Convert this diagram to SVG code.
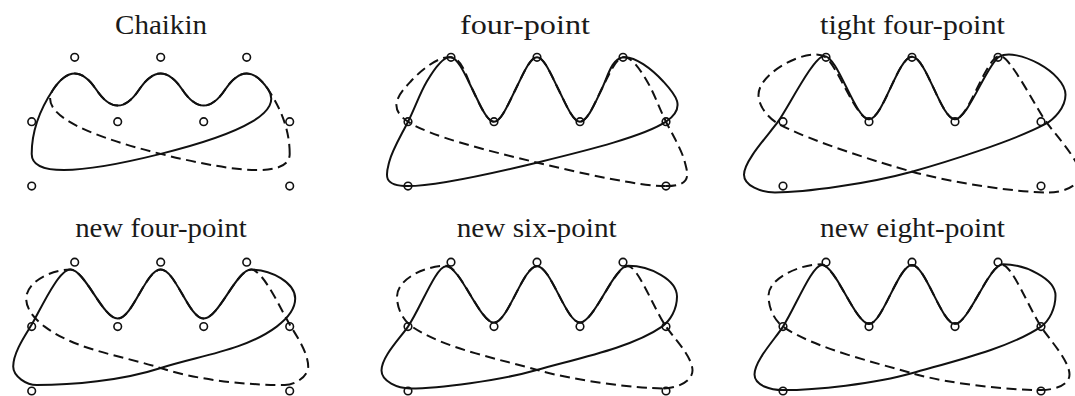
<svg xmlns="http://www.w3.org/2000/svg" xmlns:xlink="http://www.w3.org/1999/xlink" width="1075" height="396" viewBox="0 0 1075 396">
<style>
  .t{font-family:"Liberation Serif","Times New Roman",serif;font-size:27px;fill:#1a1a1a;text-anchor:middle}
  .s{fill:none;stroke:#111;stroke-width:2;stroke-linejoin:round}
  .d{fill:none;stroke:#111;stroke-width:2;stroke-dasharray:10 5.5}
  .p circle{fill:none;stroke:#111;stroke-width:1.6}
</style>
<defs>
  <g id="pts" class="p">
    <circle cx="0" cy="0" r="3.8"/><circle cx="43" cy="-64.4" r="3.8"/><circle cx="86" cy="0" r="3.8"/>
    <circle cx="129" cy="-64.4" r="3.8"/><circle cx="172" cy="0" r="3.8"/><circle cx="215" cy="-64.4" r="3.8"/>
    <circle cx="258" cy="0" r="3.8"/><circle cx="0" cy="64.4" r="3.8"/><circle cx="258" cy="64.4" r="3.8"/>
  </g>
  <path id="c1" d="M0,32.2 Q0,0 21.5,-32.2 Q43,-64.4 64.5,-32.2 Q86,0 107.5,-32.2 Q129,-64.4 150.5,-32.2 Q172,0 193.5,-32.2 Q215,-64.4 236.5,-32.2 Q258,0 129,32.2 Q0,64.4 0,32.2 Z"/>
  <path id="c2" d="M0,64.4 C-26.28,64.4 -21.95,52.33 -18.81,40.25 C-15.67,28.17 -7.17,14.31 0,0 C7.17,-14.31 11.57,-27.95 18.81,-40.25 C26.05,-52.55 35.24,-66.19 43,-64.4 C50.76,-62.61 57.41,-46.29 64.5,-32.2 C71.59,-18.11 78.83,0 86,0 C93.17,0 100.33,-17.89 107.5,-32.2 C114.67,-46.51 121.83,-64.4 129,-64.4 C136.17,-64.4 143.33,-46.51 150.5,-32.2 C157.67,-17.89 164.83,0 172,0 C179.17,0 186.86,-18.11 193.5,-32.2 C200.14,-46.29 203.65,-62.61 215,-64.4 C226.35,-66.19 244.04,-52.55 255.31,-40.25 C266.58,-27.95 279.5,-14.31 258,0 C236.5,14.31 181.41,28.17 131.69,40.25 C81.97,52.33 26.28,64.4 0,64.4 Z"/>
  <path id="c3" d="M-8,70.8 C-22,70.8 -39,64 -39,53 C-39,39 -14.3,13 -5,0 C5.1,-14.1 31,-65.8 41,-65.8 C55,-65.8 72,-2.5 86,-2.5 C100,-2.5 115,-65 129,-65 C143,-65 158,-2.5 172,-2.5 C185,-2.5 204,-57.6 216,-64.8 C233.1,-75.1 282.5,-49 282.5,-27 C282.5,-14 270.8,-2.2 262,2.5 C231.2,19 162.6,40.7 128.9,50 C85.5,61.9 22,70.8 -8,70.8 Z"/>
  <path id="c4" d="M5,58.5 C-5,58.5 -18.5,50 -18.5,40 C-18.5,26 -6.2,8.3 0,-2 C7.7,-14.9 26.5,-57 38.5,-57 C53.5,-57 71,-8 86,-8 C101,-8 114,-57 129,-57 C144,-57 157,-8 172,-8 C187,-8 204.5,-57 219.5,-57 C239.5,-57 263.5,-44 263.5,-28 C263.5,-16 253,-6 245,0 C213,24 166.3,29.3 128.3,41.7 C90.3,54.1 40,58.5 5,58.5 Z"/>
  <path id="c5" d="M2,61.8 C-10,61.8 -26.5,55 -26.5,44 C-26.5,30 -7.9,11.55 0,0 C12.4,-18.2 28,-60.4 38,-60.4 C52,-60.4 72,-4 86,-4 C100,-4 115,-60.4 129,-60.4 C143,-60.4 158,-4 172,-4 C186,-4 206,-60.8 220,-60.8 C242,-60.8 269,-47 269,-30 C269,-17 262.2,-5.7 254,0 C222.8,21.7 165.2,32.8 128.7,43.4 C92.2,54 30,61.8 2,61.8 Z"/>
  <path id="c6" d="M0,63.5 C-12,63.5 -28.5,59 -28.5,48 C-28.5,34 -7.5,11.8 0,0 C12.8,-20.3 29,-61.7 39,-61.7 C52.5,-61.7 72.5,-2.7 86,-2.7 C99.5,-2.7 115.5,-61.7 129,-61.7 C142.5,-61.7 158.5,-2.7 172,-2.7 C185.5,-2.7 206,-62.3 220,-62.3 C242,-62.3 272.5,-48 272.5,-31 C272.5,-18 266.2,-5.7 258,0 C226.8,21.7 165.2,36 128.7,46.7 C92.2,57.3 32,63.5 0,63.5 Z"/>
</defs>
<g id="titles">
  <text class="t" x="161" y="34" textLength="92" lengthAdjust="spacingAndGlyphs">Chaikin</text>
  <text class="t" x="525" y="34" textLength="130" lengthAdjust="spacingAndGlyphs">four-point</text>
  <text class="t" x="912.5" y="34" textLength="185" lengthAdjust="spacingAndGlyphs">tight four-point</text>
  <text class="t" x="161" y="237" textLength="171.7" lengthAdjust="spacingAndGlyphs">new four-point</text>
  <text class="t" x="536.7" y="237" textLength="160" lengthAdjust="spacingAndGlyphs">new six-point</text>
  <text class="t" x="912.5" y="237" textLength="185" lengthAdjust="spacingAndGlyphs">new eight-point</text>
</g>
<g id="chaikin" transform="translate(31.7,121.7)">
  <use href="#c1" class="s"/><use href="#c1" class="d" transform="matrix(-1 0 0 1 258 0)"/><use href="#pts"/>
</g>
<g id="four-point" transform="translate(408,121.7)">
  <use href="#c2" class="s"/><use href="#c2" class="d" transform="matrix(-1 0 0 1 258 0)"/><use href="#pts"/>
</g>
<g id="tight-four-point" transform="translate(783,121.7)">
  <use href="#c3" class="s"/><use href="#c3" class="d" transform="matrix(-1 0 0 1 258 0)"/><use href="#pts"/>
</g>
<g id="new-four-point" transform="translate(31.7,326.6)">
  <use href="#c4" class="s"/><use href="#c4" class="d" transform="matrix(-1 0 0 1 258 0)"/><use href="#pts"/>
</g>
<g id="new-six-point" transform="translate(408,326.6)">
  <use href="#c5" class="s"/><use href="#c5" class="d" transform="matrix(-1 0 0 1 258 0)"/><use href="#pts"/>
</g>
<g id="new-eight-point" transform="translate(783,326.6)">
  <use href="#c6" class="s"/><use href="#c6" class="d" transform="matrix(-1 0 0 1 258 0)"/><use href="#pts"/>
</g>
</svg>
